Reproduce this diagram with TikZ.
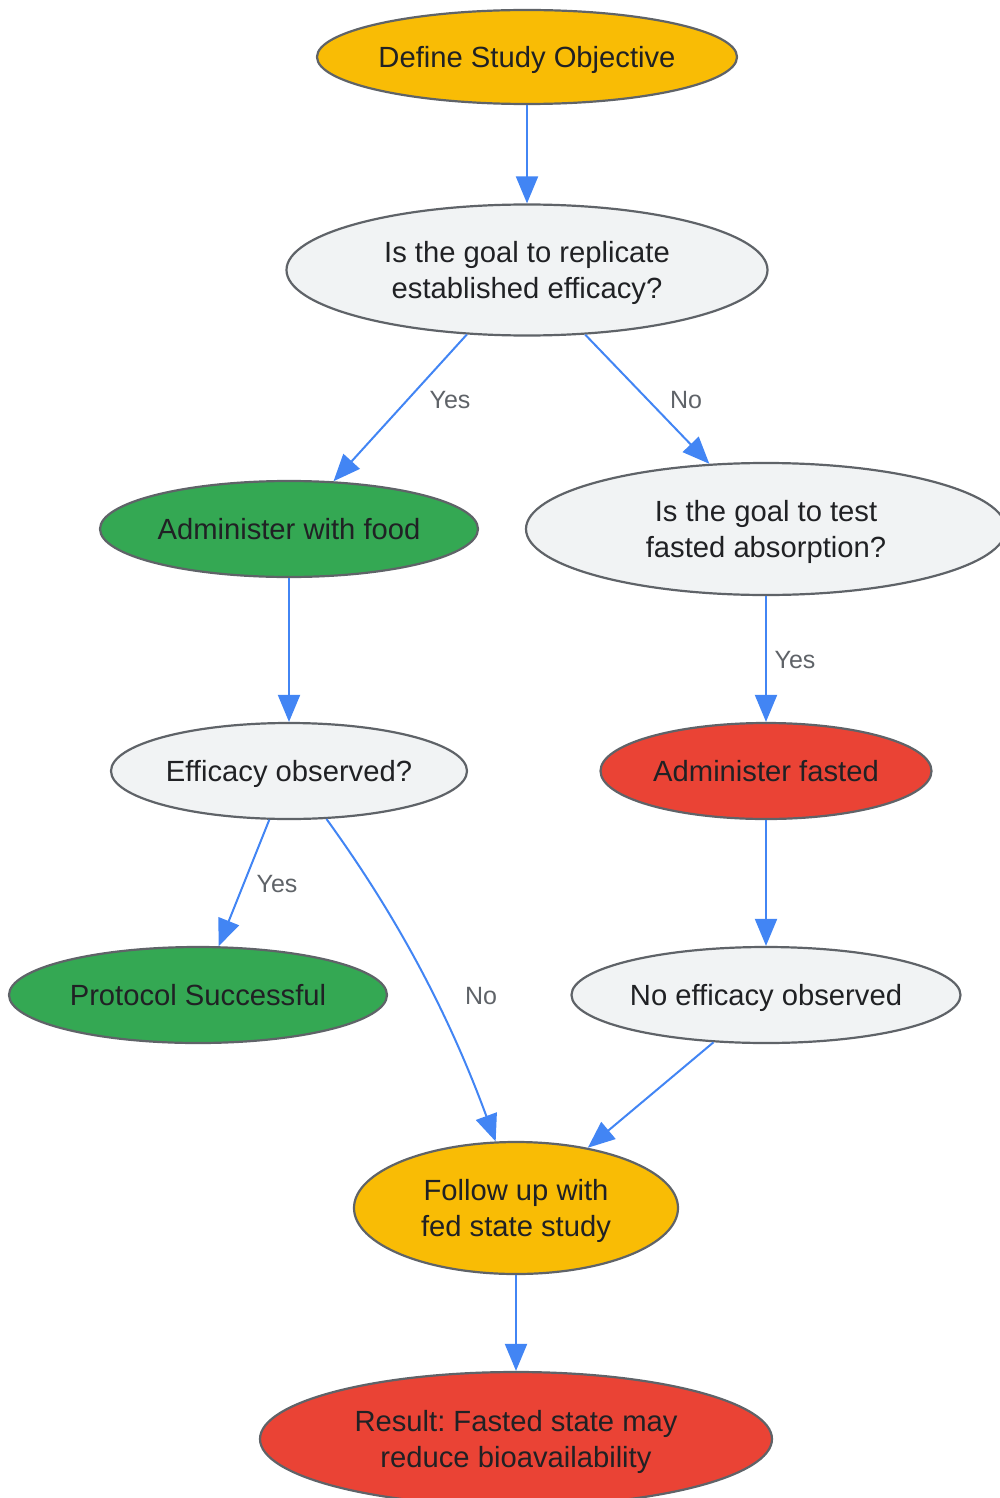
\documentclass[tikz,border=0pt]{standalone}
\usepackage{fontspec}
\setmainfont{Liberation Sans}
\usetikzlibrary{shapes.geometric,arrows.meta}
\frenchspacing
\definecolor{gyellow}{HTML}{F9BC05}
\definecolor{ggreen}{HTML}{34A853}
\definecolor{gred}{HTML}{EA4335}
\definecolor{ggray}{HTML}{F1F3F4}
\definecolor{gborder}{HTML}{5F6368}
\definecolor{gblue}{HTML}{4285F4}
\definecolor{gtext}{HTML}{202124}
\definecolor{glabel}{HTML}{5F6368}
\tikzset{
  box/.style={ellipse, draw=gborder, line width=2.2pt, inner sep=0pt, align=center,
    text=gtext, text depth=0pt, font=\fontsize{29.2}{36}\selectfont},
  conn/.style={draw=gblue, line width=2pt, -{Triangle[length=27pt,width=22pt]}},
  elabel/.style={text=glabel, font=\fontsize{25}{30}\selectfont, inner sep=0pt, text depth=0pt},
}
\begin{document}
\begin{tikzpicture}[x=1pt,y=-1pt]
\useasboundingbox (0,0) rectangle (1000,1498);
\node[box, fill=gyellow, minimum width=418pt, minimum height=94pt] (def) at (527,57) {Define Study Objective};
\node[box, fill=ggray, minimum width=481pt, minimum height=131pt] (q1) at (527,270) {Is the goal to replicate\\established efficacy?};
\node[box, fill=ggreen, minimum width=378pt, minimum height=96pt] (food) at (289,529) {Administer with food};
\node[box, fill=ggray, minimum width=480pt, minimum height=132pt] (q2) at (766,529) {Is the goal to test\\fasted absorption?};
\node[box, fill=ggray, minimum width=356pt, minimum height=96pt] (eff) at (289,771) {Efficacy observed?};
\node[box, fill=gred, minimum width=331pt, minimum height=96pt] (fasted) at (766,771) {Administer fasted};
\node[box, fill=ggreen, minimum width=378pt, minimum height=96pt] (prot) at (198,995) {Protocol Successful};
\node[box, fill=ggray, minimum width=389pt, minimum height=96pt] (noeff) at (766,995) {No efficacy observed};
\node[box, fill=gyellow, minimum width=324pt, minimum height=132pt] (follow) at (516,1208) {Follow up with\\fed state study};
\node[box, fill=gred, minimum width=512pt, minimum height=134pt] (res) at (516,1439) {Result: Fasted state may\\reduce bioavailability};

\draw[conn] (def.south) -- (q1.north);
\draw[conn] (q1.227.8) -- (food.47.5);
\draw[conn] (q1.-48.3) -- (q2.131.8);
\draw[conn] (food.south) -- (eff.north);
\draw[conn] (q2.south) -- (fasted.north);
\draw[conn] (eff.248.4) -- (prot.67.2);
\draw[conn] (eff.-52.4) .. controls (380,893) and (440,990) .. (follow.107.9);
\draw[conn] (fasted.south) -- (noeff.north);
\draw[conn] (noeff.222.2) -- (follow.40.7);
\draw[conn] (follow.south) -- (res.north);

\node[elabel] (l1) at (450,400) {Yes};
\node[elabel] (l2) at (686,400) {No};
\node[elabel] (l3) at (795,660) {Yes};
\node[elabel] (l4) at (277,884) {Yes};
\node[elabel] (l5) at (481,996) {No};
\end{tikzpicture}
\end{document}
